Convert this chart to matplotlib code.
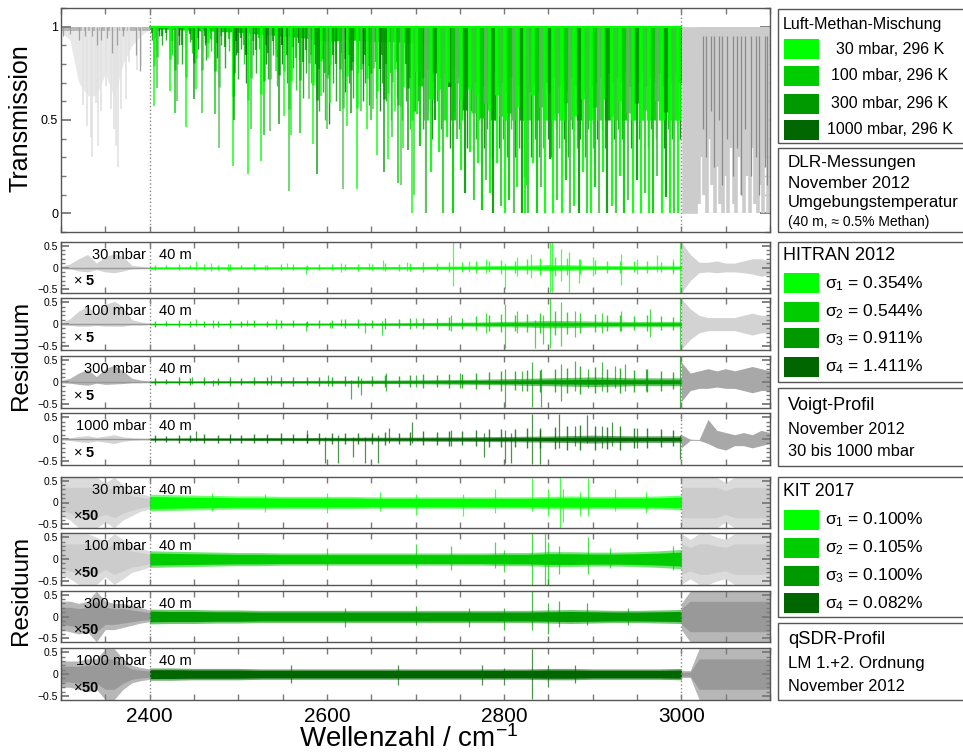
import numpy as np
import matplotlib
matplotlib.use('Agg')
import matplotlib.pyplot as plt
from matplotlib.patches import Rectangle
from matplotlib.ticker import MultipleLocator, FixedLocator, FixedFormatter

plt.rcParams['font.family'] = ['Liberation Sans', 'DejaVu Sans']
plt.rcParams['mathtext.fontset'] = 'custom'
plt.rcParams['mathtext.rm'] = 'Liberation Sans'
plt.rcParams['mathtext.it'] = 'Liberation Sans:italic'
plt.rcParams['mathtext.bf'] = 'Liberation Sans:bold'

# ---------------- data ----------------
greens = ['#00ff00', '#00cc00', '#009900', '#006600']
pressures = ['30 mbar', '100 mbar', '300 mbar', '1000 mbar']
legend_main = ['30 mbar, 296 K', '100 mbar, 296 K', '300 mbar, 296 K', '1000 mbar, 296 K']
sigma_hitran = ['0.354', '0.544', '0.911', '1.411']
sigma_kit = ['0.100', '0.105', '0.100', '0.082']
xticks = [2400, 2600, 2800, 3000]

# transmission: strong absorption lines (wavenumber, minimum transmission)
strong_pos = [2405.3, 2408.3, 2422.5, 2428.1, 2430.4, 2441.1, 2450.5, 2452.4, 2459.1, 2466.3,
              2473.5, 2478.0, 2494.1, 2494.9, 2511.3, 2514.4, 2525.7, 2528.7, 2536.3, 2542.6,
              2546.4, 2552.0, 2557.4, 2559.6, 2570.2, 2579.3, 2584.9, 2588.7, 2593.6, 2600.4,
              2604.0, 2614.3, 2618.5, 2623.0, 2627.5, 2633.5, 2638.0, 2645.6, 2649.4, 2652.4,
              2657.0, 2664.5, 2669.0, 2673.9, 2676.6, 2680.3, 2683.4, 2686.4, 2692.0, 2696.6,
              2698.5, 2701.3, 2705.0, 2711.9, 2717.1, 2722.0, 2727.0, 2731.5, 2736.0, 2742.0,
              2746.5, 2751.0, 2756.0, 2761.0, 2766.0, 2771.0, 2774.8, 2779.7, 2783.5, 2788.0,
              2792.5, 2796.3, 2801.2, 2806.0, 2810.6, 2815.0, 2820.0, 2823.7, 2827.5, 2832.4,
              2837.0, 2841.4, 2846.3, 2851.2, 2855.7, 2860.2, 2865.0, 2870.0, 2874.6, 2879.0,
              2884.0, 2888.8, 2893.3, 2897.8, 2902.7, 2907.6, 2912.0, 2916.6, 2921.5, 2926.4,
              2930.9, 2935.4, 2940.3, 2945.2, 2949.7, 2954.2, 2959.1, 2964.0, 2968.5, 2973.0,
              2977.9, 2982.8, 2987.3, 2991.9, 2996.0]
strong_T = [0.575, 0.674, 0.655, 0.54, 0.60, 0.46, 0.61, 0.665, 0.54, 0.83,
            0.53, 0.35, 0.256, 0.50, 0.21, 0.45, 0.28, 0.42, 0.44, 0.76,
            0.48, 0.52, 0.12, 0.42, 0.43, 0.61, 0.37, 0.21, 0.63, 0.45,
            0.59, 0.55, 0.13, 0.47, 0.54, 0.13, 0.55, 0.45, 0.50, 0.56,
            0.31, 0.22, 0.29, 0.41, 0.55, 0.16, 0.15, 0.35, 0.34, 0.0,
            0.10, 0.53, 0.36, 0.0, 0.22, 0.50, 0.33, 0.0, 0.41, 0.0,
            0.40, 0.23, 0.11, 0.33, 0.07, 0.27, 0.02, 0.18, 0.11, 0.0,
            0.27, 0.04, 0.0, 0.07, 0.0, 0.14, 0.0, 0.0, 0.0, 0.27,
            0.0, 0.14, 0.0, 0.29, 0.0, 0.07, 0.0, 0.18, 0.0, 0.04,
            0.0, 0.22, 0.0, 0.0, 0.14, 0.0, 0.22, 0.0, 0.04, 0.0,
            0.20, 0.0, 0.07, 0.0, 0.18, 0.0, 0.11, 0.0, 0.0, 0.20,
            0.0, 0.09, 0.0, 0.0, 0.0]
# medium lines
med_pos = [2403, 2407, 2411, 2414, 2418, 2425, 2433, 2436, 2445, 2448, 2455, 2462, 2464, 2469,
           2476, 2481, 2485, 2490, 2497, 2500, 2503, 2506, 2509, 2517, 2520, 2523, 2531, 2534,
           2539, 2544, 2549, 2555, 2562, 2565, 2568, 2573, 2576, 2582, 2587, 2591, 2596, 2598,
           2602, 2607, 2610, 2617, 2620, 2625, 2630, 2635, 2641, 2643, 2647, 2655, 2660, 2662,
           2667, 2672, 2679, 2685, 2689, 2694, 2699,
           2703, 2708, 2714, 2719, 2724, 2729, 2734, 2739, 2744, 2749, 2753, 2758, 2763, 2768,
           2772, 2777, 2781, 2786, 2790, 2794, 2799, 2803, 2808, 2812, 2817, 2822, 2825, 2830,
           2835, 2839, 2844, 2849, 2853, 2858, 2862, 2867, 2872, 2877, 2882, 2886, 2891, 2895,
           2900, 2905, 2910, 2914, 2919, 2924, 2928, 2933, 2938, 2943, 2947, 2952, 2957, 2962,
           2966, 2971, 2975, 2980, 2985, 2989, 2994, 2998]
med_T = [0.93, 0.88, 0.95, 0.90, 0.93, 0.85, 0.90, 0.80, 0.92, 0.86, 0.88, 0.90, 0.82, 0.87,
         0.83, 0.90, 0.78, 0.87, 0.85, 0.72, 0.88, 0.80, 0.70, 0.85, 0.75, 0.88, 0.80, 0.72,
         0.85, 0.68, 0.80, 0.70, 0.78, 0.66, 0.82, 0.62, 0.75, 0.70, 0.80, 0.55, 0.65, 0.50,
         0.48, 0.70, 0.60, 0.72, 0.65, 0.70, 0.62, 0.75, 0.60, 0.70, 0.58, 0.62, 0.55, 0.70,
         0.60, 0.50, 0.62, 0.50, 0.60, 0.45, 0.55,
         0.60, 0.45, 0.55, 0.40, 0.60, 0.45, 0.50, 0.35, 0.55, 0.45, 0.50, 0.35, 0.55, 0.40,
         0.50, 0.35, 0.45, 0.30, 0.50, 0.35, 0.40, 0.30, 0.45, 0.30, 0.35, 0.20, 0.15, 0.30,
         0.40, 0.30, 0.35, 0.40, 0.30, 0.45, 0.35, 0.40, 0.30, 0.45, 0.35, 0.40, 0.30, 0.45,
         0.35, 0.40, 0.45, 0.35, 0.50, 0.40, 0.45, 0.40, 0.50, 0.35, 0.50, 0.40, 0.50, 0.35,
         0.45, 0.40, 0.50, 0.35, 0.45, 0.40, 0.50, 0.40]
# level down to which the absorption is quasi continuous (every 25 cm-1)
env_x = [2400, 2425, 2450, 2475, 2500, 2525, 2550, 2575, 2600, 2625, 2650, 2675, 2700,
         2725, 2750, 2775, 2800, 2825, 2850, 2875, 2900, 2925, 2950, 2975, 3000]
env_T = [0.99, 0.985, 0.98, 0.975, 0.97, 0.96, 0.95, 0.94, 0.92, 0.93, 0.92, 0.92, 0.91,
         0.90, 0.89, 0.88, 0.87, 0.85, 0.87, 0.88, 0.88, 0.89, 0.89, 0.90, 0.90]
# grey (outside fit range) transmission
gl_env_x = [2300, 2310, 2320, 2330, 2340, 2350, 2360, 2370, 2380, 2390, 2400]
gl_env_T = [0.97, 0.93, 0.70, 0.63, 0.63, 0.75, 0.62, 0.80, 0.90, 0.95, 0.99]
gl_pos = [2329.8, 2333.5, 2335.0, 2339.0, 2342.0, 2350.3, 2356.0, 2360.0, 2361.8, 2364.8,
          2367.5, 2373.0, 2377.0, 2386.0, 2390.0, 2325.0, 2345.0]
gl_T = [0.47, 0.41, 0.30, 0.59, 0.36, 0.68, 0.56, 0.45, 0.36, 0.25,
        0.56, 0.61, 0.81, 0.77, 0.79, 0.58, 0.55]
gl_dark_pos = [2302, 2310, 2320, 2327, 2335, 2341, 2345, 2352, 2358, 2363, 2370, 2385, 2389]
gl_dark_T = [0.95, 0.96, 0.93, 0.95, 0.95, 0.90, 0.93, 0.94, 0.86, 0.90, 0.95, 0.85, 0.76]
gr_env_x = [3000.5, 3018, 3019, 3040, 3060, 3080, 3100]
gr_env_T = [0.0, 0.0, 0.80, 0.82, 0.82, 0.82, 0.82]
gr_pos = [3020, 3023, 3026, 3029, 3032, 3035, 3038, 3041, 3044, 3047, 3050, 3053, 3056, 3059,
          3062, 3065, 3068, 3071, 3074, 3077, 3080, 3083, 3086, 3089, 3092, 3095, 3098]
gr_T = [0.05, 0.30, 0.10, 0.0, 0.40, 0.15, 0.0, 0.25, 0.05, 0.0, 0.20, 0.0, 0.35, 0.05,
        0.0, 0.30, 0.10, 0.0, 0.20, 0.0, 0.35, 0.05, 0.0, 0.15, 0.0, 0.30, 0.0]
gr_dark_pos = [3024, 3028, 3033, 3037, 3042, 3046, 3052, 3058, 3063, 3067, 3072, 3078, 3084,
               3088, 3094, 3097]
gr_dark_T = [0.45, 0.30, 0.55, 0.25, 0.50, 0.15, 0.40, 0.20, 0.35, 0.10, 0.45, 0.20, 0.30,
             0.10, 0.25, 0.15]

# residuals: core noise half-amplitude every 25 cm-1 (2400..3000)
core_x = env_x
hit_core = [
    [.012, .012, .015, .015, .012, .012, .015, .015, .015, .02, .02, .022, .022, .03, .035, .04, .05,
     .055, .07, .065, .05, .045, .04, .04, .04],
    [.015, .015, .015, .015, .02, .02, .022, .022, .022, .025, .025, .03, .035, .04, .045, .05, .06,
     .07, .085, .08, .07, .065, .06, .06, .06],
    [.02, .02, .02, .025, .025, .03, .03, .03, .035, .035, .04, .04, .045, .05, .055, .06, .07,
     .08, .09, .10, .11, .10, .09, .09, .09],
    [.025, .025, .03, .03, .03, .035, .035, .035, .04, .04, .045, .045, .045, .05, .05, .055, .06,
     .065, .07, .08, .09, .08, .075, .075, .075]]
kit_core = [
    [.19, .18, .17, .16, .15, .15, .14, .14, .14, .14, .13, .13, .13, .13, .13, .13, .13, .13,
     .14, .15, .14, .14, .14, .15, .17],
    [.19, .18, .17, .16, .15, .15, .14, .14, .14, .14, .14, .14, .14, .14, .14, .14, .15, .15,
     .17, .17, .16, .16, .17, .19, .22],
    [.17, .16, .16, .15, .15, .14, .14, .14, .14, .14, .14, .14, .14, .14, .14, .14, .14, .14,
     .15, .16, .15, .14, .14, .15, .16],
    [.14, .14, .13, .13, .13, .12, .12, .12, .12, .12, .12, .12, .12, .12, .12, .12, .12, .12,
     .13, .13, .12, .12, .12, .12, .13]]
# small residual spikes of the HITRAN fits (positions and half-amplitudes)
hit_small_x = [2406, 2419, 2433, 2446, 2461, 2477, 2491, 2503, 2518, 2533, 2548, 2562, 2578, 2591,
               2606, 2621, 2635, 2651, 2666, 2681, 2694, 2709, 2724, 2738, 2753, 2768, 2783, 2797,
               2812, 2826, 2841, 2857, 2871, 2886, 2902, 2916, 2931, 2946, 2961, 2977, 2991]
hit_small_a = [
    [.06, .05, .08, .05, .07, .06, .08, .05, .07, .06, .08, .07, .06, .08, .07, .08, .09, .08, .10,
     .09, .10, .12, .10, .13, .12, .15, .14, .18, .16, .20, .22, .25, .22, .20, .18, .16, .15, .14,
     .15, .13, .12],
    [.07, .06, .09, .07, .08, .08, .10, .07, .09, .08, .10, .09, .08, .10, .10, .11, .12, .10, .13,
     .12, .13, .15, .14, .16, .15, .18, .20, .22, .20, .24, .26, .30, .28, .25, .22, .20, .20, .18,
     .20, .18, .16],
    [.08, .07, .10, .08, .10, .09, .11, .09, .10, .10, .12, .11, .10, .12, .12, .13, .14, .13, .15,
     .14, .15, .17, .16, .18, .18, .20, .22, .25, .24, .26, .28, .30, .32, .35, .33, .30, .32, .28,
     .30, .25, .22],
    [.09, .08, .10, .09, .11, .10, .12, .10, .12, .11, .13, .12, .12, .14, .13, .14, .15, .14, .16,
     .15, .16, .18, .17, .19, .18, .20, .22, .24, .22, .25, .26, .28, .30, .32, .30, .28, .30, .26,
     .25, .22, .20]]
# large spikes: (wavenumber, top, bottom)
hit_spikes = [
    [(2452.6, .15, -.05), (2469, .10, -.08), (2488, .08, -.08), (2530, .06, -.05), (2555, .10, -.04),
     (2576, .03, -.15), (2616, .10, -.10), (2647, .10, -.05), (2663, .18, -.06), (2690, .12, -.08),
     (2742.7, .59, -.43), (2760, .15, -.10), (2780, .20, -.12), (2801, .10, -.50), (2815, .25, -.20),
     (2830, .30, -.25), (2852, .59, -.55), (2854, .59, -.55), (2864, .42, -.30), (2873, .35, -.55),
     (2885, .20, -.35), (2900, .25, -.20), (2932, .30, -.40), (2950, .20, -.15), (2972, .28, -.10),
     (2990, .20, -.15), (2999, .59, -.59)],
    [(2452.6, .12, -.05), (2472, .10, -.10), (2510, .10, -.05), (2543, .12, -.12), (2576, .05, -.15),
     (2604, .05, -.10), (2616, .12, -.05), (2643, .05, -.20), (2662, .08, -.25), (2700, .15, -.10),
     (2740, .20, -.15), (2780, .25, -.20), (2801, .45, -.55), (2815, .30, -.20), (2835, .10, -.55),
     (2844, .20, -.45), (2852, .59, -.55), (2864, .50, -.50), (2880, .30, -.30), (2910, .25, -.20),
     (2932, .30, -.15), (2965, .35, -.30), (2999, .59, -.59)],
    [(2448, .12, -.05), (2472, .05, -.10), (2537, .15, -.08), (2601, .15, -.10), (2627, .05, -.40),
     (2638, .08, -.30), (2667, .20, -.20), (2700, .15, -.12), (2750, .20, -.15), (2801, .30, -.58),
     (2820, .25, -.20), (2831, .45, -.58), (2842, .30, -.58), (2864, .40, -.45), (2880, .48, -.20),
     (2895, .30, -.15), (2910, .45, -.20), (2925, .35, -.15), (2936, .40, -.20), (2960, .30, -.20),
     (2999, .59, -.59)],
    [(2452, .18, -.05), (2578, .20, -.10), (2598, .05, -.55), (2613, .10, -.55), (2630, .05, -.40),
     (2643, .05, -.55), (2658, .10, -.55), (2670, .25, -.10), (2696, .40, -.10), (2740, .20, -.15),
     (2777, .15, -.40), (2801, .20, -.55), (2808, .15, -.55), (2831, .58, -.58), (2840, .20, -.58),
     (2862, .58, -.20), (2880, .30, -.15), (2894, .55, -.10), (2910, .30, -.20), (2922, .40, -.15),
     (2950, .25, -.20), (2998, .10, -.45)]]
kit_spikes = [
    [(2470, .22, -.20), (2530, .20, -.22), (2600, .22, -.25), (2660, .25, -.20), (2700, .20, -.28),
     (2754, .20, -.30), (2790, .30, -.25), (2831, .55, -.20), (2850, .30, -.30), (2863, .60, -.60),
     (2866, .30, -.45), (2886, .25, -.30), (2895, .55, -.30), (2925, .30, -.20), (2960, .25, -.25)],
    [(2600, .25, -.25), (2700, .35, -.20), (2740, .30, -.25), (2790, .40, -.20), (2800, .20, -.30),
     (2831, .60, -.60), (2846, .60, -.60), (2850, .40, -.60), (2862, .30, -.35), (2895, .50, -.35),
     (2920, .25, -.20), (2990, .30, -.25)],
    [(2620, .20, -.25), (2700, .25, -.20), (2760, .20, -.25), (2800, .20, -.30), (2831, .58, -.30),
     (2850, .30, -.40), (2862, .35, -.25), (2894, .30, -.20), (2940, .20, -.20)],
    [(2560, .20, -.20), (2680, .20, -.25), (2775, .20, -.25), (2800, .15, -.25), (2832, .58, -.58),
     (2850, .20, -.30), (2880, .20, -.20)]]
# grey residual envelopes outside the fit range (every 10 cm-1)
gl_x = gl_env_x
gr_x = [3000, 3010, 3020, 3030, 3040, 3050, 3060, 3070, 3080, 3090, 3100]
hit_gl_up = [[.03, .08, .20, .30, .10, .25, .32, .25, .05, .03, .01],
             [.03, .12, .30, .42, .20, .45, .52, .40, .10, .05, .02],
             [.03, .08, .20, .28, .12, .30, .38, .25, .08, .04, .02],
             [.02, .03, .06, .08, .04, .07, .10, .05, .03, .02, .02]]
hit_gl_lo = [[-.02, -.03, -.08, -.10, -.05, -.10, -.12, -.08, -.03, -.02, -.01],
             [-.02, -.03, -.05, -.05, -.03, -.05, -.05, -.05, -.02, -.02, -.01],
             [-.02, -.03, -.06, -.08, -.03, -.06, -.05, -.04, -.02, -.02, -.01],
             [-.02, -.03, -.06, -.08, -.04, -.07, -.10, -.05, -.03, -.02, -.02]]
hit_gr_up = [[.58, .30, .12, .12, .15, .10, .10, .15, .20, .20, .15],
             [.58, .35, .20, .15, .15, .15, .15, .20, .25, .20, .20],
             [.45, .20, .25, .30, .25, .30, .25, .30, .35, .30, .25],
             [.10, .00, -.01, .45, .20, .15, .10, .15, .10, .20, .15]]
hit_gr_lo = [[-.58, -.30, -.12, -.10, -.12, -.10, -.10, -.12, -.15, -.20, -.15],
             [-.58, -.35, -.20, -.15, -.15, -.15, -.15, -.20, -.25, -.20, -.20],
             [-.45, -.20, -.15, -.15, -.12, -.15, -.15, -.20, -.25, -.20, -.20],
             [-.20, -.03, -.03, -.10, -.20, -.25, -.15, -.15, -.20, -.15, -.10]]
kit_gl_up = [[.58, .58, .58, .58, .58, .45, .58, .40, .25, .20, .15],
             [.58, .58, .58, .58, .50, .40, .58, .45, .30, .25, .18],
             [.35, .35, .30, .35, .58, .35, .30, .30, .25, .20, .15],
             [.30, .30, .30, .35, .35, .58, .58, .35, .20, .15, .12]]
kit_gl_lo = [[-.30, -.40, -.58, -.58, -.58, -.45, -.58, -.40, -.30, -.20, -.15],
             [-.35, -.45, -.58, -.58, -.58, -.40, -.58, -.45, -.30, -.25, -.18],
             [-.30, -.35, -.40, -.35, -.58, -.30, -.30, -.25, -.20, -.15, -.12],
             [-.30, -.30, -.35, -.40, -.35, -.58, -.58, -.35, -.20, -.15, -.12]]
kit_gr_up = [[.58, .58, .58, .58, .58, .45, .58, .58, .58, .58, .58],
             [.58, .45, .58, .58, .50, .45, .58, .58, .58, .58, .58],
             [.30, .58, .58, .58, .58, .58, .58, .58, .58, .58, .58],
             [.08, .08, .58, .58, .58, .58, .58, .58, .58, .58, .58]]
kit_gr_lo = [[-.58, -.58, -.58, -.58, -.58, -.45, -.58, -.58, -.58, -.58, -.58],
             [-.58, -.45, -.58, -.58, -.50, -.45, -.58, -.58, -.58, -.58, -.58],
             [-.30, -.58, -.58, -.58, -.58, -.58, -.58, -.58, -.58, -.58, -.58],
             [-.08, -.08, -.58, -.58, -.58, -.58, -.58, -.58, -.58, -.58, -.58]]
hit_grey = [('#cccccc', '#cccccc'), ('#cccccc', '#cccccc'), ('#a8a8a8', '#999999'), ('#cccccc', '#999999')]
kit_grey = [('#cccccc', '#cccccc'), ('#cccccc', '#cccccc'), ('#999999', '#999999'), ('#999999', '#999999')]

# ---------------- figure ----------------
W, H = 963, 752
fig = plt.figure(figsize=(W / 100, H / 100), dpi=100)
SP = '#555555'
TK = '#7a7a7a'


def ax_px(left, top, right, bottom):
    return fig.add_axes([left / W, 1 - bottom / H, (right - left) / W, (bottom - top) / H])


def style(ax, ylim, yt, ylab, ymin_step, majlen, minlen, ylabsize, bottom_labels=False):
    ax.set_xlim(2300, 3100)
    ax.set_ylim(*ylim)
    ax.xaxis.set_major_locator(FixedLocator(xticks))
    ax.xaxis.set_minor_locator(MultipleLocator(50))
    ax.yaxis.set_major_locator(FixedLocator(yt))
    ax.yaxis.set_major_formatter(FixedFormatter(ylab))
    ax.yaxis.set_minor_locator(MultipleLocator(ymin_step))
    ax.tick_params(axis='both', which='both', direction='in', top=True, right=True, color=TK)
    ax.tick_params(axis='x', which='both', length=4.5, width=1.0)
    ax.tick_params(axis='y', which='major', length=majlen, width=1.3, labelsize=ylabsize, pad=2)
    ax.tick_params(axis='y', which='minor', length=minlen, width=1.0)
    ax.tick_params(axis='x', labelbottom=bottom_labels, labelsize=15, pad=5)
    for s in ax.spines.values():
        s.set_color(SP)
        s.set_linewidth(1.0)
    for xv in (2400, 3000):
        ax.axvline(xv, color='#888888', ls=':', lw=1.0, zorder=6)


# ---- transmission panel
ax0 = ax_px(61, 8, 770, 232)
style(ax0, (-0.1, 1.1), [0, 0.5, 1], ['0', '0.5', '1'], 0.1, 7, 3.5, 9)
ax0.fill_between(gl_env_x, gl_env_T, 1, color='#e8e8e8', lw=0)
ax0.vlines(gl_pos, gl_T, 1, colors='#e2e2e2', lw=1.2)
ax0.vlines(gl_dark_pos, gl_dark_T, 1, colors='#a0a0a0', lw=0.9)
ax0.fill_between(gl_env_x, 0.975, 1, color='#b8b8b8', lw=0)
ax0.fill_between(gr_env_x, gr_env_T, 1, color='#cccccc', lw=0)
ax0.vlines(gr_pos, gr_T, 1, colors='#cccccc', lw=2.6)
ax0.vlines(gr_dark_pos, gr_dark_T, 0.95, colors='#8a8a8a', lw=0.9)
ax0.fill_between(env_x, env_T, 1, color='#00e000', lw=0)
mcols = [[greens[2], greens[1], greens[3], greens[2]][i % 4] for i in range(len(med_pos))]
med_d = 1 - np.array(med_T)
med_w = [3.0 if p >= 2700 else 1.6 for p in med_pos]
ax0.vlines(med_pos, 1 - 0.5 * med_d, 1, colors=mcols, lw=med_w, alpha=0.8)
ax0.vlines(med_pos, med_T, 1, colors=mcols, lw=1.0, alpha=0.8)
scyc = [greens[0], '#33cc33', greens[0], greens[1], '#55bb55', greens[0], greens[2]]
scols = [scyc[i % len(scyc)] for i in range(len(strong_pos))]
str_d = 1 - np.array(strong_T)
str_w = [3.8 if p >= 2700 else 1.8 for p in strong_pos]
str_w2 = [1.6 if p >= 2700 else 1.1 for p in strong_pos]
ax0.vlines(strong_pos, 1 - 0.5 * str_d, 1, colors=scols, lw=str_w, alpha=0.9)
ax0.vlines(strong_pos, strong_T, 1, colors=scols, lw=str_w2, alpha=0.9)
ax0.plot([2400, 3000], [1, 1], color=greens[0], lw=1.5)
fig.text(21 / W, 1 - 118 / H, 'Transmission', rotation=90, ha='center', va='center', fontsize=18)

# ---- residual panels
hit_tops = [241.7, 298.3, 356.0, 413.3]
kit_tops = [476.7, 533.3, 590.7, 648.3]
PH = 51.6


def draw_res(ax, core, spikes, lup, llo, rup, rlo, gcol, greys, kit, label, factor, small=None):
    c = np.array(core)
    lg, rg = greys
    if kit:
        ax.fill_between(gl_x, llo, lup, color=lg, alpha=0.7, lw=0)
        ax.fill_between(gl_x, np.array(llo) * 0.6, np.array(lup) * 0.6, color=lg, lw=0)
        ax.fill_between(gr_x, rlo, rup, color=rg, alpha=0.7, lw=0)
        ax.fill_between(gr_x, np.array(rlo) * 0.6, np.array(rup) * 0.6, color=rg, lw=0)
        ax.fill_between(core_x, -c, c, color=gcol, alpha=0.55, lw=0)
        ax.fill_between(core_x, -0.72 * c, 0.72 * c, color=gcol, lw=0)
    else:
        ax.fill_between(gl_x, llo, lup, color=lg, alpha=0.85, lw=0)
        ax.fill_between(gr_x, rlo, rup, color=rg, alpha=0.85, lw=0)
        ax.plot(gl_x, np.zeros(len(gl_x)), color='#999999', lw=1.0)
        ax.fill_between(core_x, -c, c, color=gcol, alpha=0.6, lw=0)
        ax.fill_between(core_x, -0.5 * c, 0.5 * c, color=gcol, lw=0)
    if small is not None:
        a = np.array(small)
        ax.vlines(hit_small_x, -0.8 * a, a, colors=gcol, lw=1.0, alpha=0.8)
    sx = [s[0] for s in spikes]
    shi = [s[1] for s in spikes]
    slo = [s[2] for s in spikes]
    ax.vlines(sx, slo, shi, colors=gcol, lw=0.9, alpha=0.7)
    ax.plot([2400, 3000], [0, 0], color=gcol, lw=1.0)
    ax.text(2396, 0.29, label, ha='right', va='center', fontsize=10.5)
    ax.text(2411, 0.29, '40 m', ha='left', va='center', fontsize=10.5)
    ax.text(2314, -0.32, factor, ha='left', va='center', fontsize=10.5)


for i in range(4):
    axh = ax_px(61, hit_tops[i], 770, hit_tops[i] + PH)
    style(axh, (-0.59, 0.59), [-0.5, 0, 0.5], ['\u22120.5', '0', '0.5'], 0.1, 6, 3, 7.5)
    draw_res(axh, hit_core[i], hit_spikes[i], hit_gl_up[i], hit_gl_lo[i], hit_gr_up[i], hit_gr_lo[i],
             greens[i], hit_grey[i], False, pressures[i], r'$\times\ \mathbf{5}$', hit_small_a[i])
for i in range(4):
    axk = ax_px(61, kit_tops[i], 770, kit_tops[i] + PH)
    style(axk, (-0.59, 0.59), [-0.5, 0, 0.5], ['\u22120.5', '0', '0.5'], 0.1, 6, 3, 7.5,
          bottom_labels=(i == 3))
    draw_res(axk, kit_core[i], kit_spikes[i], kit_gl_up[i], kit_gl_lo[i], kit_gr_up[i], kit_gr_lo[i],
             greens[i], kit_grey[i], True, pressures[i], r'$\times\mathbf{50}$')

fig.text(21 / W, 1 - 355 / H, 'Residuum', rotation=90, ha='center', va='center', fontsize=17.5)
fig.text(21 / W, 1 - 590 / H, 'Residuum', rotation=90, ha='center', va='center', fontsize=17.5)
fig.text(409 / W, 1 - 747 / H, r'Wellenzahl / cm$^{-1}$', ha='center', va='baseline', fontsize=20)


# ---- legend boxes (figure coordinates)
def box(top, bottom):
    fig.patches.append(Rectangle((778 / W, 1 - bottom / H), 240 / W, (bottom - top) / H,
                                 transform=fig.transFigure, fill=False, ec=SP, lw=1.0,
                                 clip_on=False))


def swatch(yc, col):
    fig.patches.append(Rectangle((784 / W, 1 - (yc + 10) / H), 35 / W, 20 / H,
                                 transform=fig.transFigure, fc=col, ec='none'))


def ftext(x, y, s, size, ha='left'):
    fig.text(x / W, 1 - y / H, s, ha=ha, va='center', fontsize=size)


box(9, 143)
ftext(783, 25, 'Luft-Methan-Mischung', 11.5)
for yc, col, lab in zip([49.3, 76, 103.5, 130], greens, legend_main):
    swatch(yc, col)
    ftext(890, yc, lab, 11.5, ha='center')
box(148, 232)
ftext(788, 163, 'DLR-Messungen', 12.3)
ftext(788, 183, 'November 2012', 12.3)
ftext(788, 203, 'Umgebungstemperatur', 12)
ftext(788, 222, '(40 m, \u2248 0.5% Methan)', 10)

box(241.7, 381.7)
ftext(783, 255, 'HITRAN 2012', 13)
for k, (yc, col, sg) in enumerate(zip([283.3, 311.7, 338.3, 366.7], greens, sigma_hitran)):
    swatch(yc, col)
    ftext(825, yc, '\u03c3$_{\\mathrm{%d}}$ = %s%%' % (k + 1, sg), 12.5)
box(388, 465.7)
ftext(788, 405, 'Voigt-Profil', 13)
ftext(788, 429, 'November 2012', 11.8)
ftext(788, 451.7, '30 bis 1000 mbar', 11.8)

box(476.7, 616.7)
ftext(783, 491.7, 'KIT 2017', 12.7)
for k, (yc, col, sg) in enumerate(zip([520, 547.7, 576, 603.3], greens, sigma_kit)):
    swatch(yc, col)
    ftext(825, yc, '\u03c3$_{\\mathrm{%d}}$ = %s%%' % (k + 1, sg), 12.5)
box(623, 700)
ftext(788, 640, 'qSDR-Profil', 13.2)
ftext(788, 663.3, 'LM 1.+2. Ordnung', 12.2)
ftext(788, 686.7, 'November 2012', 11.8)

fig.savefig('out.png', dpi=100)
